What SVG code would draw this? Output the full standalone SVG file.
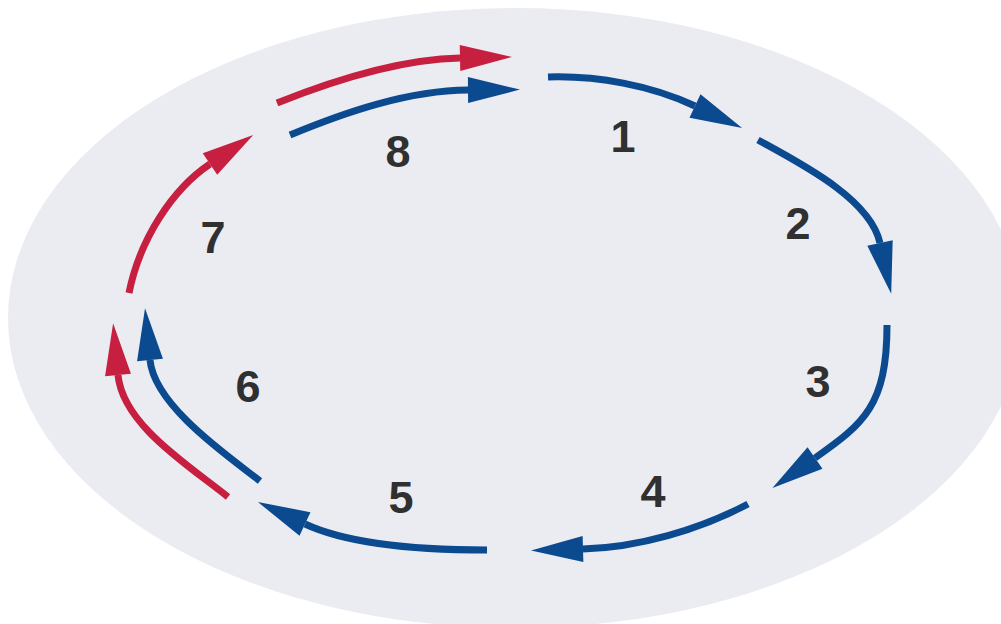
<svg xmlns="http://www.w3.org/2000/svg" width="1001" height="624" viewBox="0 0 1001 624">
<style>
.bg{fill:#ebecf2}
.b{fill:none;stroke:#0c4a90;stroke-width:7}
.r{fill:none;stroke:#c61f3f;stroke-width:7}
.lbl{font-family:"Liberation Sans",Arial,sans-serif;font-weight:bold;font-size:45px;fill:#303030;text-anchor:middle}
</style>
<defs>
<marker id="hb" markerUnits="userSpaceOnUse" markerWidth="54" markerHeight="28" refX="0" refY="13" orient="auto" viewBox="0 0 54 26" overflow="visible"><path d="M0,0 L52,13 L0,26 Z" fill="#0c4a90"/></marker>
<marker id="hr" markerUnits="userSpaceOnUse" markerWidth="54" markerHeight="28" refX="0" refY="13" orient="auto" viewBox="0 0 54 26" overflow="visible"><path d="M0,0 L52,13 L0,26 Z" fill="#c61f3f"/></marker>
</defs>
<rect width="1001" height="624" fill="#ffffff"/>
<ellipse class="bg" cx="515" cy="318" rx="507" ry="310"/>
<g id="connectors">
<path id="a1" class="b" marker-end="url(#hb)" d="M548,77 C597,75.5 650.6,85.3 695,106"/>
<path id="a2" class="b" marker-end="url(#hb)" d="M758,140 C801.8,164 870.3,199 880,243"/>
<path id="a3" class="b" marker-end="url(#hb)" d="M887,325 C887,405 864,423.6 815,458"/>
<path id="a4" class="b" marker-end="url(#hb)" d="M748,504 C699.4,529.8 638,547.5 583,549"/>
<path id="a5" class="b" marker-end="url(#hb)" d="M487,550 C427,550 350,545 305,524"/>
<path id="a6b" class="b" marker-end="url(#hb)" d="M260,481 C224.5,453.6 154.3,404.8 150,360"/>
<path id="a6r" class="r" marker-end="url(#hr)" d="M228,497 C189,465.5 122.7,424.8 118,375"/>
<path id="a7" class="r" marker-end="url(#hr)" d="M129,293 C139.8,239 172.6,189 210,164"/>
<path id="a8r" class="r" marker-end="url(#hr)" d="M277,103 C332.7,80.7 400,59.2 460,58"/>
<path id="a8b" class="b" marker-end="url(#hb)" d="M290,135 C345.4,112 408,90.5 468,90"/>
</g>
<g id="n1"><text class="lbl" x="623" y="152">1</text></g>
<g id="n2"><text class="lbl" x="798" y="239">2</text></g>
<g id="n3"><text class="lbl" x="818" y="397">3</text></g>
<g id="n4"><text class="lbl" x="653" y="507">4</text></g>
<g id="n5"><text class="lbl" x="401" y="513">5</text></g>
<g id="n6"><text class="lbl" x="248" y="402">6</text></g>
<g id="n7"><text class="lbl" x="213" y="253">7</text></g>
<g id="n8"><text class="lbl" x="398" y="167">8</text></g>
</svg>
